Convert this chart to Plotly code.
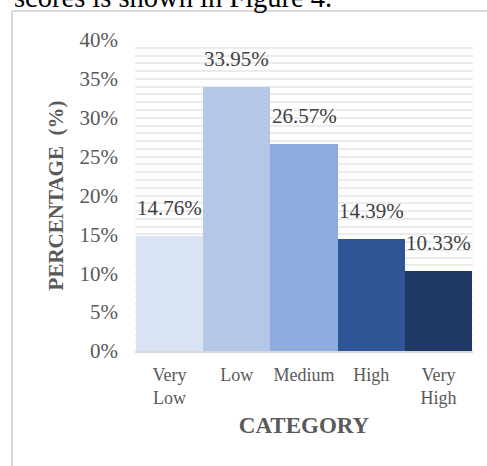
import plotly.graph_objects as go

# Share of respondents per score category
categories = ["Very<br>Low", "Low", "Medium", "High", "Very<br>High"]
percentages = [14.76, 33.95, 26.57, 14.39, 10.33]
bar_colors = ["#dae3f3", "#b4c7e7", "#8faadc", "#2f5597", "#203864"]
y_ticks = [0, 5, 10, 15, 20, 25, 30, 35, 40]

SERIF = "Liberation Serif, Times New Roman, serif"

fig = go.Figure()
fig.add_trace(go.Bar(
    x=categories,
    y=percentages,
    marker=dict(color=bar_colors, line=dict(width=0)),
    hoverinfo="skip",
))

# Value labels above each bar
for cat, val in zip(categories, percentages):
    fig.add_annotation(
        x=cat, y=val, xref="x", yref="y",
        text=f"{val:.2f}%", showarrow=False,
        xanchor="center", yanchor="bottom", yshift=14,
        font=dict(family=SERIF, size=21, color="#404040"),
    )

W, H = 487, 466
L, R, T, B = 135, 14, 40, 115
pw, ph = W - L - R, H - T - B

def px_x(p):
    return (p - L) / pw

def px_y(p):
    return (H - B - p) / ph

# Surrounding chart frame (continues beyond the right and bottom edges)
frame = dict(color="#d9d9d9", width=2)
fig.add_shape(type="line", xref="paper", yref="paper",
              x0=px_x(12), x1=px_x(500), y0=px_y(11), y1=px_y(11), line=frame)
fig.add_shape(type="line", xref="paper", yref="paper",
              x0=px_x(12), x1=px_x(12), y0=px_y(11), y1=px_y(480), line=frame)

# Running text of the document above the chart
fig.add_annotation(
    xref="paper", yref="paper", x=px_x(12), y=px_y(-3),
    xanchor="left", yanchor="middle", showarrow=False,
    text="scores is shown in Figure 4.",
    font=dict(family=SERIF, size=28.5, color="#000000"),
)

fig.update_layout(
    width=W, height=H,
    margin=dict(l=L, r=R, t=T, b=B),
    paper_bgcolor="white", plot_bgcolor="white",
    bargap=0, showlegend=False,
    font=dict(family=SERIF),
)

fig.update_xaxes(
    showgrid=False, showline=True, linecolor="#d9d9d9", linewidth=2,
    ticks="", tickfont=dict(family=SERIF, size=18, color="#595959"),
    ticklabelstandoff=6,
    title=dict(text="<b>CATEGORY</b>", standoff=10,
               font=dict(family=SERIF, size=23, color="#595959")),
)

fig.update_yaxes(
    range=[0, 40], tickvals=y_ticks, ticktext=[f"{t}%" for t in y_ticks],
    showgrid=True, gridcolor="#ececec", gridwidth=2,
    minor=dict(dtick=1, showgrid=True, gridcolor="#ececec", gridwidth=2),
    zeroline=False, showline=False, ticks="",
    tickfont=dict(family=SERIF, size=21, color="#595959"),
    ticklabelstandoff=16,
    title=dict(text="<b>PERCENTAGE  (%)</b>", standoff=10,
               font=dict(family=SERIF, size=21, color="#595959")),
)

fig.write_html("out.html")
